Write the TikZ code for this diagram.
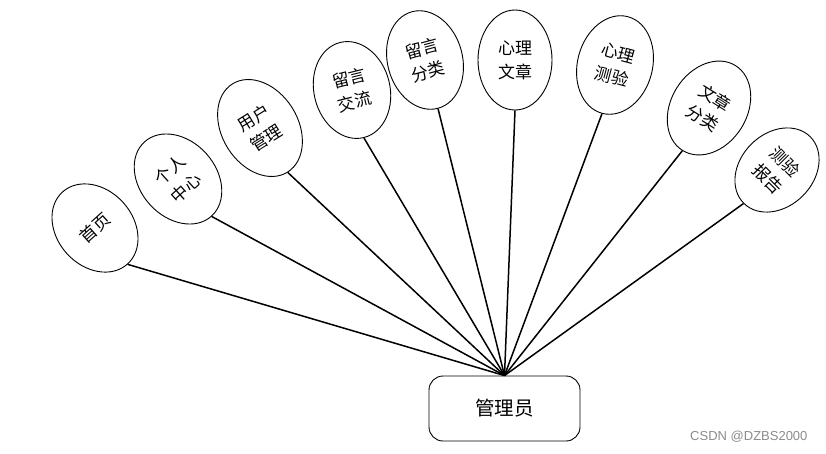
\documentclass[tikz,border=0pt]{standalone}
\usepackage{fontspec}
\newfontfamily\cjk{Noto Sans CJK SC}
\newfontfamily\wmfont{Liberation Sans}
\usetikzlibrary{shapes.geometric}
\tikzset{
  func/.style={draw=black, line width=0.9pt, shape=ellipse, inner sep=0pt,
    minimum width=76pt, minimum height=99pt, align=center,
    font=\cjk\fontsize{17}{24}\selectfont},
  rootbox/.style={draw=black, line width=0.9pt, rounded corners=14pt,
    minimum width=151pt, minimum height=65pt, inner sep=0pt,
    font=\cjk\fontsize{19.5}{22}\selectfont},
  link/.style={draw=black, line width=1.5pt}
}
\begin{document}
\begin{tikzpicture}[x=1pt,y=-1pt]
\fill[white] (0,0) rectangle (826,453);
\useasboundingbox (0,0) rectangle (826,453);

\node[rootbox] (root) at (504.5,408.5) {管理员};

\node[func, rotate=42, minimum width=76pt, minimum height=97pt] (e1) at (95,228) {首页};
\node[func, rotate=42, minimum width=76pt, minimum height=100pt] (e2) at (178,179) {个人\\中心};
\node[func, rotate=32, minimum width=76pt, minimum height=104pt] (e3) at (260,128) {用户\\管理};
\node[func, rotate=14, minimum width=76pt, minimum height=98pt] (e4) at (352,90) {留言\\交流};
\node[func, rotate=15, minimum width=75pt, minimum height=100pt] (e5) at (425,60) {留言\\分类};
\node[func, rotate=0, minimum width=74pt, minimum height=100pt] (e6) at (515,60) {心理\\文章};
\node[func, rotate=-15, minimum width=75pt, minimum height=100pt] (e7) at (615,65) {心理\\测验};
\node[func, rotate=-32, minimum width=76pt, minimum height=100pt] (e8) at (709,108) {文章\\分类};
\node[func, rotate=-45, minimum width=73pt, minimum height=94pt] (e9) at (777,170) {测验\\报告};

\foreach \e in {e1,e2,e3,e4,e5,e6,e7,e8,e9}
  \draw[link] (root.north) -- (\e.south);

\node[text=black!45, font=\wmfont\fontsize{13}{15}\selectfont, anchor=east] (wm) at (811,437) {CSDN @DZBS2000};
\end{tikzpicture}
\end{document}
